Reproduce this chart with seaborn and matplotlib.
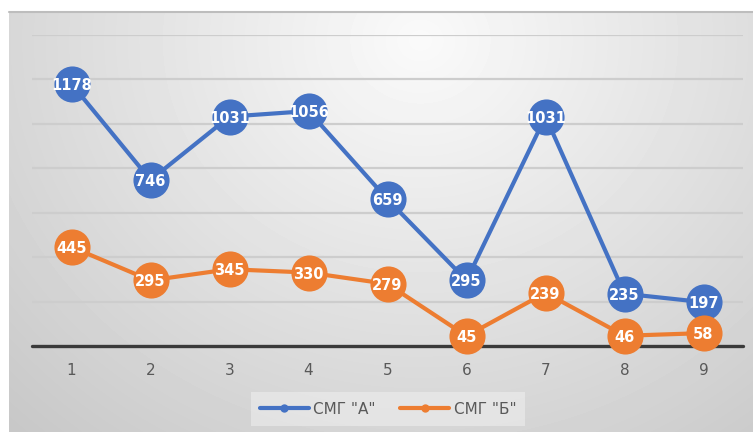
import numpy as np
import pandas as pd
import matplotlib
matplotlib.use("Agg")
import matplotlib.pyplot as plt
from matplotlib.lines import Line2D
import seaborn as sns

# Data
points = [1, 2, 3, 4, 5, 6, 7, 8, 9]
smg_a = [1178, 746, 1031, 1056, 659, 295, 1031, 235, 197]
smg_b = [445, 295, 345, 330, 279, 45, 239, 46, 58]
series_names = ['СМГ "А"', 'СМГ "Б"']
colors = ["#4472C4", "#ED7D31"]

df = pd.DataFrame({
    "point": points * 2,
    "value": smg_a + smg_b,
    "series": [series_names[0]] * len(points) + [series_names[1]] * len(points),
})

sns.set_theme(style="white")
plt.rcParams["font.family"] = ["DejaVu Sans"]

W, H = 753, 432
fig = plt.figure(figsize=(W / 100, H / 100), dpi=100, facecolor="white")

# Radial gradient panel behind the chart
bg = fig.add_axes([0, 0, 1, 1], zorder=-5)
bg.set_xlim(0, W)
bg.set_ylim(H, 0)
bg.axis("off")
x0, y0 = 9, 11
yy, xx = np.mgrid[y0:H, x0:W]
dist = np.hypot((xx - 420) / 1.0, (yy - 40) / 0.9)
shade = np.clip(250 - dist * 0.085, 200, 250) / 255.0
bg.imshow(shade, cmap="gray", vmin=0, vmax=1, extent=(x0, W, H, y0),
          aspect="auto", interpolation="bilinear")
bg.plot([x0, W], [y0 + 0.5, y0 + 0.5], color="#bdbdbd", lw=1.5)

# Plot area
ax = fig.add_axes([32 / W, 86 / H, 711 / W, 311.5 / H])
ax.set_facecolor("none")
for s in ax.spines.values():
    s.set_visible(False)

sns.lineplot(data=df, x="point", y="value", hue="series", palette=colors,
             marker="o", markersize=26, markeredgewidth=0, linewidth=3,
             legend=False, ax=ax, clip_on=False)
# orange series above the blue one
lines = ax.get_lines()
lines[0].set_zorder(3)
lines[1].set_zorder(4)

ax.set_xlim(0.5, 9.5)
ax.set_ylim(0, 1400)
ax.set_yticks(range(200, 1401, 200))
ax.yaxis.grid(True, color="#cdcdcd", lw=1.6)
ax.set_axisbelow(True)
ax.axhline(0, color="#3a3a3a", lw=2.4, zorder=2, clip_on=False)
ax.set_yticklabels([])
ax.tick_params(axis="y", length=0)
ax.set_xticks(points)
ax.set_xticklabels([str(p) for p in points], color="#595959", fontsize=11)
ax.tick_params(axis="x", length=0, pad=12)
ax.set_xlabel("")
ax.set_ylabel("")

# Value labels inside markers
for vals in (smg_a, smg_b):
    for p, v in zip(points, vals):
        ax.text(p, v, str(v), ha="center", va="center_baseline", color="white",
                fontsize=10.5, fontweight="bold", zorder=6, clip_on=False)

handles = [Line2D([], [], color=c, lw=3, marker="o", markersize=6,
                  markeredgewidth=0) for c in colors]
leg = ax.legend(handles, series_names, loc="center", ncol=2,
                bbox_to_anchor=(388 / W, (H - 409) / H), bbox_transform=fig.transFigure,
                frameon=True, fancybox=False, framealpha=0.5,
                facecolor="#f2f2f2", edgecolor="none", fontsize=11,
                handlelength=3.2, handletextpad=0.3, columnspacing=1.6,
                borderpad=0.6, labelcolor="#595959")

fig.savefig("out.png", dpi=100, facecolor="white")
